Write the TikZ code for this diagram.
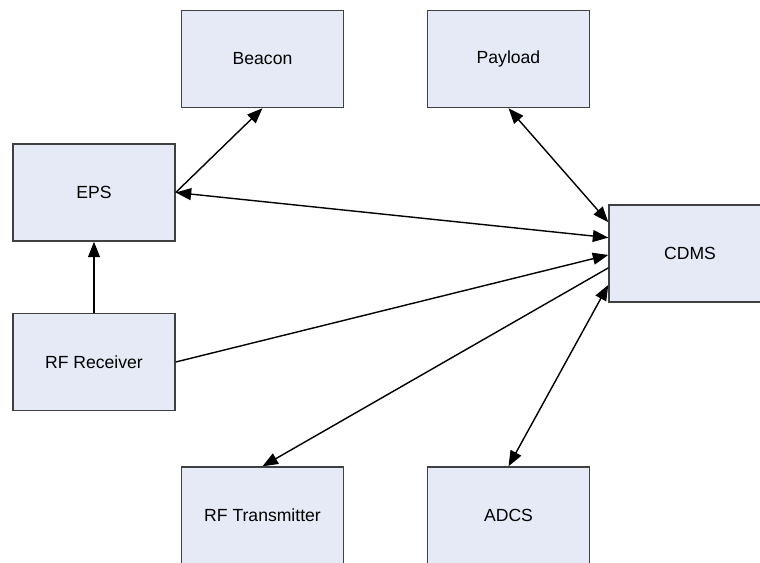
\documentclass[tikz,border=0pt]{standalone}
\usepackage{fontspec}
\setmainfont{Liberation Sans}
\usepackage{xcolor}
\usepackage{tikz}
\usetikzlibrary{arrows.meta,positioning}
\definecolor{boxfill}{RGB}{230,234,246}
\definecolor{boxline}{RGB}{64,64,64}
\tikzset{
unit/.style={shape=rectangle,draw=boxline,fill=boxfill,line width=1pt,minimum width=4.05cm,minimum height=2.425cm,inner sep=0pt,font=\fontsize{12.5}{15}\selectfont},
link/.style={line width=1pt,-{Triangle[length=11pt,width=8.5pt]}},
both/.style={line width=1pt,{Triangle[length=11pt,width=8.5pt]}-{Triangle[length=11pt,width=8.5pt]}}
}
\begin{document}
\begin{tikzpicture}[x=0.025cm,y=-0.025cm]
\clip(0,0)rectangle(760,562);
\fill[white](0,0)rectangle(760,562);
\node[unit](beacon) at (262.5,59) {Beacon};
\node[unit](payload) at (508.5,59) {Payload};
\node[unit](eps) at (94,192.5) {EPS};
\node[unit](cdms) at (690,253.5) {CDMS};
\node[unit](rfrx) at (94,362) {RF Receiver};
\node[unit](rftx) at (262.5,515.5) {RF Transmitter};
\node[unit](adcs) at (508.5,515.5) {ADCS};
%%
\draw[link](eps.east)--(beacon.south);
\draw[link](rfrx.north)--(eps.south);
\draw[both](eps.east)--(cdms.169.9);
\draw[both](payload.south)--(cdms.159.4);
\draw[link](rfrx.east)--(cdms.181);
\draw[link](cdms.190)--(rftx.north);
\draw[both](adcs.north)--(cdms.201.3);
\end{tikzpicture}
\end{document}
